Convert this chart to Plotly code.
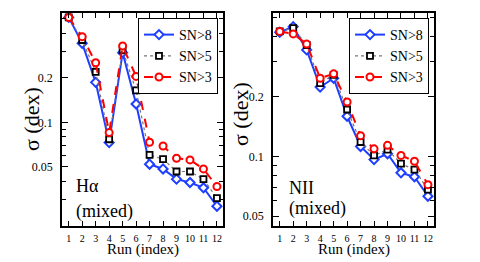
import math
import plotly.graph_objects as go

runs = list(range(1, 13))
x_ticks = list(range(1, 13))

# H-alpha panel
ha_sn8 = [0.510, 0.341, 0.186, 0.073, 0.295, 0.133, 0.0522, 0.0485, 0.0414, 0.0393, 0.0362, 0.0272]
ha_sn5 = [0.510, 0.359, 0.219, 0.0769, 0.307, 0.164, 0.0603, 0.0564, 0.0466, 0.0466, 0.0414, 0.0308]
ha_sn3 = [0.510, 0.378, 0.252, 0.0853, 0.327, 0.204, 0.0734, 0.0693, 0.0573, 0.0558, 0.0485, 0.0369]

# NII panel
n2_sn8 = [0.421, 0.449, 0.343, 0.223, 0.247, 0.159, 0.112, 0.0963, 0.103, 0.0826, 0.0789, 0.063]
n2_sn5 = [0.425, 0.441, 0.363, 0.2335, 0.257, 0.172, 0.118, 0.101, 0.108, 0.0919, 0.0857, 0.068]
n2_sn3 = [0.425, 0.413, 0.367, 0.247, 0.26, 0.1875, 0.127, 0.109, 0.1135, 0.101, 0.0944, 0.072]

series_names = ["SN>8", "SN>5", "SN>3"]
y_major = [0.05, 0.1, 0.2]
y_major_text = ["0.05", "0.1", "0.2"]
y_minor = [0.02, 0.03, 0.04, 0.06, 0.07, 0.08, 0.09, 0.3, 0.4, 0.5]

# the page has an 8px body margin; compensate so the figure lands like the reference
OFF = 8
W, H = 480 - OFF, 262 - OFF
FONT = "Liberation Serif, Times New Roman, serif"

def px(x):
    return (x - OFF) / W

def py(y):
    return 1 - (y - OFF) / H

styles = [
    dict(line=dict(color="#1f3fff", width=2, dash="solid"),
         marker=dict(symbol="diamond", size=7, color="white", line=dict(color="#1f3fff", width=2))),
    dict(line=dict(color="#777777", width=1.2, dash="dot"),
         marker=dict(symbol="square", size=6, color="white", line=dict(color="black", width=1.8))),
    dict(line=dict(color="#ff0000", width=2, dash="dash"),
         marker=dict(symbol="circle", size=7, color="white", line=dict(color="#ff0000", width=2))),
]

fig = go.Figure()
for i, ys in enumerate([ha_sn8, ha_sn5, ha_sn3]):
    fig.add_trace(go.Scatter(x=runs, y=ys, name=series_names[i], mode="lines+markers",
                             xaxis="x", yaxis="y", legend="legend", **styles[i]))
for i, ys in enumerate([n2_sn8, n2_sn5, n2_sn3]):
    fig.add_trace(go.Scatter(x=runs, y=ys, name=series_names[i], mode="lines+markers",
                             xaxis="x2", yaxis="y2", legend="legend2", **styles[i]))

def xaxis(domain, anchor):
    return dict(domain=domain, anchor=anchor, range=[0.5, 12.45], tickmode="array",
                tickvals=x_ticks, tickangle=0, ticks="inside", ticklen=5, tickwidth=1.3,
                tickcolor="black", showline=True, linecolor="black", linewidth=1.8,
                mirror="ticks", showgrid=False, zeroline=False, ticklabelstandoff=2,
                tickfont=dict(family=FONT, size=10, color="black"))

def yaxis(domain, anchor, rng):
    return dict(domain=domain, anchor=anchor, type="log", range=rng, tickmode="array",
                tickvals=y_major, ticktext=y_major_text, ticks="inside", ticklen=6, tickwidth=1.3,
                tickcolor="black", showline=True, linecolor="black", linewidth=1.8, mirror="ticks",
                showgrid=False, zeroline=False, ticklabelstandoff=5,
                minor=dict(tickmode="array", tickvals=y_minor, ticks="inside", ticklen=4,
                           tickwidth=1.2, tickcolor="black", showgrid=False),
                tickfont=dict(family=FONT, size=12, color="black"))

ydom = [py(226), py(13)]
legend_common = dict(bgcolor="white", bordercolor="black", borderwidth=1,
                     font=dict(family=FONT, size=14, color="black"), itemwidth=30,
                     tracegroupgap=0, xanchor="right", yanchor="top")

fig.update_layout(
    width=W, height=H, margin=dict(l=0, r=0, t=0, b=0),
    paper_bgcolor="white", plot_bgcolor="white", showlegend=True,
    font=dict(family=FONT),
    xaxis=xaxis([px(62), px(223)], "y"),
    yaxis=yaxis(ydom, "x", [math.log10(0.0200), math.log10(0.546)]),
    xaxis2=xaxis([px(273), px(434)], "y2"),
    yaxis2=yaxis(ydom, "x2", [math.log10(0.0446), math.log10(0.526)]),
    legend=dict(x=px(218), y=py(18), **legend_common),
    legend2=dict(x=px(429), y=py(18), **legend_common),
)

ann_font = dict(family=FONT, size=18, color="black")
for txt, x, y in [("Hα", 74, 186), ("(mixed)", 74, 211), ("NII", 287, 188), ("(mixed)", 287, 208)]:
    fig.add_annotation(text=txt, x=px(x), y=py(y), xref="paper", yref="paper",
                       xanchor="left", yanchor="middle", showarrow=False, font=ann_font)
for x, y in [(31, 119), (241, 114)]:
    fig.add_annotation(text="σ (dex)", x=px(x), y=py(y), xref="paper", yref="paper",
                       xanchor="center", yanchor="middle", textangle=-90, showarrow=False,
                       font=dict(family=FONT, size=22, color="black"))
for x in [142.5, 353.5]:
    fig.add_annotation(text="Run (index)", x=px(x), y=py(249), xref="paper", yref="paper",
                       xanchor="center", yanchor="middle", showarrow=False,
                       font=dict(family=FONT, size=15, color="black"))

fig.write_html("out.html")
